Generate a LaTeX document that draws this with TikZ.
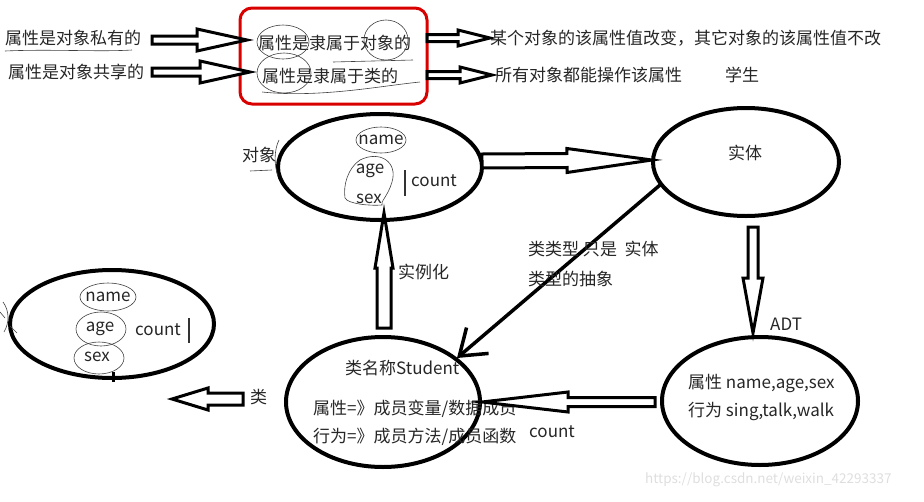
\documentclass[tikz,border=0pt]{standalone}
\usepackage{fontspec}
\setmainfont{Noto Sans CJK SC}
\usetikzlibrary{shapes.geometric,calc,arrows.meta}
\newcommand{\hollowarrow}[6][]{%
  \coordinate (hah) at ($(#3)!#6!(#2)$);
  \draw[hollow,#1] ($(#2)!#4!90:(#3)$) -- ($(hah)!#4!90:(#3)$) -- ($(hah)!#5!90:(#3)$) -- (#3)
    -- ($(hah)!#5!-90:(#3)$) -- ($(hah)!#4!-90:(#3)$) -- ($(#2)!#4!-90:(#3)$) -- cycle;}
\tikzset{
  hollow/.style={draw=black, line width=3pt, fill=white, line join=miter},
  oval/.style={ellipse, draw=black, line width=4pt, inner sep=0pt},
  txt/.style={font=\fontsize{17}{20}\selectfont, text=black!85, inner sep=0pt, anchor=west},
  ctxt/.style={txt, anchor=center},
  scrib/.style={draw=black!75, line width=0.6pt},
  redbox/.style={draw=red!85!black, line width=3pt, rounded corners=12pt},
  wm/.style={font=\fontsize{13.5}{16}\selectfont, text=black!13, inner sep=0pt, anchor=west},
}
\begin{document}
\begin{tikzpicture}[x=1pt,y=-1pt]
\useasboundingbox (0,0) rectangle (924,501);
\clip (0,0) rectangle (924,501);
% ---- top region
\node[txt] (p1) at (5,38) {属性是对象私有的};
\node[txt] (p2) at (8,72) {属性是对象共享的};
\draw[redbox] (240,8) rectangle (427,104);
\node[txt] (b1) at (258,43) {属性是隶属于对象的};
\node[txt] (b2) at (262,76) {属性是隶属于类的};
\node[txt] (r1) at (490,38) {某个对象的该属性值改变，其它对象的该属性值不改};
\node[txt] (r2) at (495,75) {所有对象都能操作该属性};
\node[txt] (r3) at (725,75) {学生};
\coordinate (a1s) at (152,40); \coordinate (a1e) at (247,40);
\coordinate (a2s) at (152,72); \coordinate (a2e) at (250,72);
\coordinate (a3s) at (427,38); \coordinate (a3e) at (490,38);
\coordinate (a4s) at (427,75); \coordinate (a4e) at (492,75);
\hollowarrow{a1s}{a1e}{4pt}{11pt}{50pt}
\hollowarrow{a2s}{a2e}{4pt}{11pt}{50pt}
\hollowarrow{a3s}{a3e}{3.5pt}{8pt}{32pt}
\hollowarrow{a4s}{a4e}{3.5pt}{8pt}{32pt}
% scribbles top
\draw[scrib] (5,51) .. controls (50,49) and (100,52) .. (132,50);
\draw[scrib] (283,42) ellipse (26 and 17);
\draw[scrib] (386,40) ellipse (22 and 20);
\draw[scrib] (284,73) ellipse (27 and 20);
\draw[scrib] (333,62) -- (413,60);
\draw[scrib] (262,92) .. controls (320,98) and (380,86) .. (420,82);
% ---- object ellipse
\node[oval, minimum width=204pt, minimum height=106pt] (obj) at (380,167) {};
\node[ctxt] (oname) at (381,140) {name};
\node[ctxt] (oage) at (370,171) {age};
\node[ctxt] (osex) at (369,199) {sex};
\node[txt] (ocount) at (411,181) {count};
\draw[line width=1.2pt, black!80] (405,170) -- (405,196);
\node[txt] (oduix) at (242,155) {对象};
\draw[scrib] (250,171) -- (272,170);
\draw[scrib] (279,140) .. controls (274,150) and (274,165) .. (278,176);
\draw[scrib] (381,140) ellipse (25 and 13);
\draw[scrib] (360,160) .. controls (380,150) and (398,162) .. (392,182)
  .. controls (388,196) and (380,202) .. (382,205) .. controls (370,206) and (348,204) .. (345,198)
  .. controls (343,185) and (348,168) .. (360,160);
% ---- entity ellipse
\node[oval, minimum width=186pt, minimum height=108pt] (ent) at (746,162) {};
\node[ctxt] (entt) at (745,153) {实体};
\coordinate (a5s) at (482,161); \coordinate (a5e) at (652,160);
\hollowarrow{a5s}{a5e}{7pt}{12pt}{85pt}
% ---- diagonal
\coordinate (d1) at (660,185); \coordinate (d2) at (457,358);
\draw[line width=3.5pt, -{Straight Barb[length=24pt,width=34pt,line width=3.5pt]}] (d1) -- (d2);
\node[txt] (lt1) at (528,249) {类类型 只是\ \ 实体};
\node[txt] (lt2) at (528,279) {类型的抽象};
% ---- ADT
\coordinate (a6s) at (753,227); \coordinate (a6e) at (753,333);
\hollowarrow{a6s}{a6e}{5pt}{10pt}{55pt}
\node[txt] (adtl) at (770,324) {ADT};
\node[oval, minimum width=196pt, minimum height=128pt] (adt) at (760,401) {};
\node[txt] (adt1) at (688,383) {属性 name,age,sex};
\node[txt] (adt2) at (688,411) {行为 sing,talk,walk};
% ---- student
\node[oval, minimum width=194pt, minimum height=130pt] (stu) at (383,402) {};
\node[txt] (s0) at (345,368) {类名称Student};
\node[txt] (s1) at (313,409) {属性=》成员变量/数据成员};
\node[txt] (s2) at (313,437) {行为=》成员方法/成员函数};
\coordinate (a7s) at (655,402); \coordinate (a7e) at (482,402);
\hollowarrow{a7s}{a7e}{4.5pt}{10pt}{86pt}
\node[txt] (cnt) at (529,432) {count};
\coordinate (a8s) at (384,328); \coordinate (a8e) at (384,213);
\hollowarrow{a8s}{a8e}{7pt}{9pt}{55pt}
\node[txt] (inst) at (398,272) {实例化};
% ---- left ellipse
\node[txt] (lei) at (250,397) {类};
\coordinate (a9s) at (243,399); \coordinate (a9e) at (172,399);
\hollowarrow{a9s}{a9e}{6pt}{11pt}{36pt}
\node[oval, minimum width=204pt, minimum height=108pt] (lft) at (112,324) {};
\node[ctxt] (lname) at (108,297) {name};
\node[ctxt] (lage) at (100,329) {age};
\node[ctxt] (lsex) at (97,357) {sex};
\node[txt] (lcount) at (135,330) {count};
\draw[line width=1.2pt, black!80] (189,318) -- (189,343);
\draw[line width=3pt] (113,372) -- (113,382);
\draw[scrib] (108,297) ellipse (28 and 14);
\draw[scrib] (101,329) ellipse (25 and 17);
\draw[scrib] (99,358) ellipse (25 and 16);
\draw[scrib] (3,302) .. controls (9,310) and (10,322) .. (4,332);
\draw[scrib] (0,312) -- (5,318);
\draw[scrib] (10,326) -- (17,333);
% ---- watermark
\node[wm] (wmk) at (645,480) {https://blog.csdn.net/weixin\_42293337};
\end{tikzpicture}
\end{document}
